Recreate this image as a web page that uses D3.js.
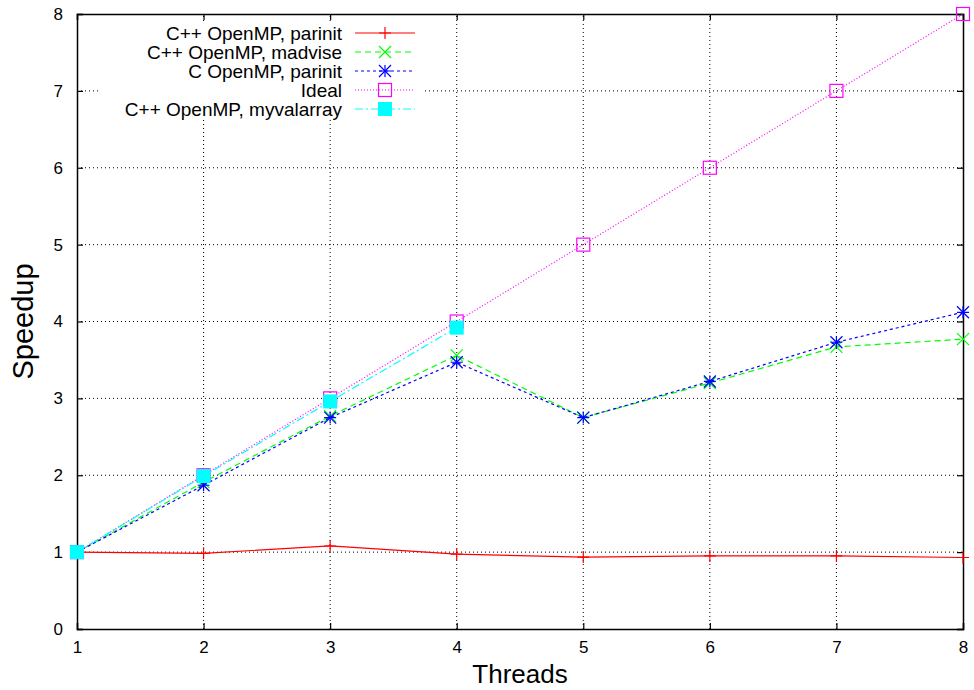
<!DOCTYPE html>
<html>
<head>
<meta charset="utf-8">
<script src="https://cdn.jsdelivr.net/npm/d3@7"></script>
<style>
  body { margin: 0; background: #fff; }
  text { font-family: "Liberation Sans", Arial, sans-serif; fill: #000; }
</style>
</head>
<body>
<div id="chart"></div>
<script>
// data
var threads = [1, 2, 3, 4, 5, 6, 7, 8]
var cppParinit = [1, 0.985, 1.08, 0.975, 0.935, 0.95, 0.95, 0.93]
var cppMadvise = [1, 1.91, 2.77, 3.56, 2.75, 3.2, 3.67, 3.77]
var cParinit = [1, 1.87, 2.75, 3.47, 2.75, 3.22, 3.73, 4.12]
var ideal = [1, 2, 3, 4, 5, 6, 7, 8]
var myvalarray = [1, 1.99, 2.96, 3.92]
var xTicks = [1, 2, 3, 4, 5, 6, 7, 8]
var yTicks = [0, 1, 2, 3, 4, 5, 6, 7, 8]

var series = [
  { name: 'C++ OpenMP, parinit', values: cppParinit, color: '#ff0000', dash: null, marker: 'plus' },
  { name: 'C++ OpenMP, madvise', values: cppMadvise, color: '#00ff00', dash: '6,4', marker: 'cross' },
  { name: 'C OpenMP, parinit', values: cParinit, color: '#0000ff', dash: '3,3', marker: 'star' },
  { name: 'Ideal', values: ideal, color: '#ff00ff', dash: '1,2', marker: 'box' },
  { name: 'C++ OpenMP, myvalarray', values: myvalarray, color: '#00ffff', dash: '8,3,2,3', marker: 'fbox' }
]

var width = 974, height = 690
var m = { left: 77, right: 11, top: 14, bottom: 61 }

var svg = d3.select('#chart').append('svg')
    .attr('width', width)
    .attr('height', height)

var x = d3.scaleLinear().domain([1, 8]).range([m.left, width - m.right])
var y = d3.scaleLinear().domain([0, 8]).range([height - m.bottom, m.top])

// grid
var grid = svg.append('g')
grid.selectAll('.gx').data(xTicks.slice(1, -1)).enter().append('line')
    .attr('x1', d => x(d)).attr('x2', d => x(d))
    .attr('y1', y(0)).attr('y2', y(8))
    .attr('stroke', '#000').attr('stroke-width', 1)
    .attr('stroke-dasharray', '1,3')
grid.selectAll('.gy').data(yTicks.slice(1, -1)).enter().append('line')
    .attr('x1', x(1)).attr('x2', x(8))
    .attr('y1', d => y(d)).attr('y2', d => y(d))
    .attr('stroke', '#000').attr('stroke-width', 1)
    .attr('stroke-dasharray', '1,3')

// legend background hides the grid behind it
svg.append('rect')
    .attr('x', 100).attr('y', 22)
    .attr('width', 322).attr('height', 97)
    .attr('fill', '#fff')

// axes: ticks pointing inward, mirrored on top and right
var tickLen = 6
svg.append('g')
    .attr('transform', 'translate(0,' + y(0) + ')')
    .call(d3.axisBottom(x).tickValues(xTicks).tickFormat(d3.format('d')).tickSize(-tickLen).tickPadding(12))
svg.append('g')
    .attr('transform', 'translate(0,' + y(8) + ')')
    .call(d3.axisTop(x).tickValues(xTicks).tickSize(-tickLen).tickFormat(''))
svg.append('g')
    .attr('transform', 'translate(' + x(1) + ',0)')
    .call(d3.axisLeft(y).tickValues(yTicks).tickSize(-tickLen).tickPadding(14))
svg.append('g')
    .attr('transform', 'translate(' + x(8) + ',0)')
    .call(d3.axisRight(y).tickValues(yTicks).tickSize(-tickLen).tickFormat(''))

svg.selectAll('.domain').attr('stroke', '#000').attr('stroke-width', 1.5)
svg.selectAll('.tick line').attr('stroke', '#000').attr('stroke-width', 1.2)
svg.selectAll('.tick text').style('font-size', '17px').style('font-family', '"Liberation Sans", Arial, sans-serif')

// marker drawing
function drawMarker (g, type, color, cx, cy) {
  var s = 6
  if (type === 'plus' || type === 'star') {
    g.append('path').attr('d', 'M' + (cx - s) + ',' + cy + 'H' + (cx + s) + 'M' + cx + ',' + (cy - s) + 'V' + (cy + s))
        .attr('stroke', color).attr('stroke-width', 1.2).attr('fill', 'none')
  }
  if (type === 'cross' || type === 'star') {
    g.append('path').attr('d', 'M' + (cx - s) + ',' + (cy - s) + 'L' + (cx + s) + ',' + (cy + s) + 'M' + (cx - s) + ',' + (cy + s) + 'L' + (cx + s) + ',' + (cy - s))
        .attr('stroke', color).attr('stroke-width', 1.2).attr('fill', 'none')
  }
  if (type === 'box') {
    g.append('rect').attr('x', cx - 6.5).attr('y', cy - 6.5).attr('width', 13).attr('height', 13)
        .attr('stroke', color).attr('stroke-width', 1.2).attr('fill', 'none')
  }
  if (type === 'fbox') {
    g.append('rect').attr('x', cx - 7).attr('y', cy - 7).attr('width', 14).attr('height', 14)
        .attr('fill', color)
  }
}

var line = d3.line()
    .x((d, i) => x(threads[i]))
    .y(d => y(d))

// series lines + markers
series.forEach(function (s) {
  var g = svg.append('g')
  g.append('path')
      .attr('d', line(s.values))
      .attr('fill', 'none')
      .attr('stroke', s.color)
      .attr('stroke-width', 1.2)
      .attr('stroke-dasharray', s.dash)
  s.values.forEach(function (v, i) {
    drawMarker(g, s.marker, s.color, x(threads[i]), y(v))
  })
})

// legend
var legend = svg.append('g')
series.forEach(function (s, i) {
  var ly = 33 + i * 19
  legend.append('text')
      .attr('x', 342).attr('y', ly)
      .attr('dy', '0.36em')
      .attr('text-anchor', 'end')
      .style('font-size', '19px')
      .text(s.name)
  legend.append('line')
      .attr('x1', 355).attr('x2', 415)
      .attr('y1', ly).attr('y2', ly)
      .attr('stroke', s.color).attr('stroke-width', 1.2)
      .attr('stroke-dasharray', s.dash)
  drawMarker(legend, s.marker, s.color, 385, ly)
})

// axis titles
svg.append('text')
    .attr('x', (x(1) + x(8)) / 2).attr('y', 683)
    .attr('text-anchor', 'middle')
    .style('font-size', '26px')
    .text('Threads')
svg.append('text')
    .attr('transform', 'translate(33,' + y(4) + ') rotate(-90)')
    .attr('text-anchor', 'middle')
    .style('font-size', '29px')
    .text('Speedup')
</script>
</body>
</html>
